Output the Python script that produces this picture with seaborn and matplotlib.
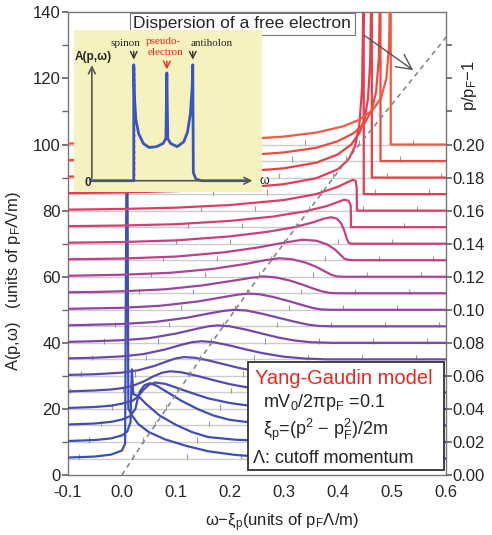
import numpy as np
import pandas as pd
import matplotlib
matplotlib.use('Agg')
import matplotlib.pyplot as plt
import seaborn as sns
from matplotlib.patches import Rectangle

sns.set_theme(style='white')
plt.rcParams['font.family'] = ['Liberation Sans', 'DejaVu Sans']
plt.rcParams['mathtext.default'] = 'regular'

# p/pF - 1 of each curve and the vertical shift between curves
p_rows = [0.01 * k for k in range(1, 21)]
row_step = 5.0
right_ticks = [0.00, 0.02, 0.04, 0.06, 0.08, 0.10, 0.12, 0.14, 0.16, 0.18, 0.20]

# free electron position xi_p on each row
xi_p = [0.020, 0.040, 0.061, 0.082, 0.103, 0.124, 0.145, 0.166, 0.188, 0.210,
        0.232, 0.254, 0.277, 0.300, 0.323, 0.346, 0.369, 0.392, 0.416, 0.440]
free_x = [0.0] + xi_p + [0.638]
free_y = [0.0] + [5.0 * k for k in range(1, 21)] + [140.0]

curve_colors = ['#3b4fb6', '#3d4eb5', '#414db4', '#474cb3', '#524ab2', '#5e49b0',
                '#6a48ad', '#7747aa', '#8446a6', '#9245a1', '#9f449b', '#ad4394',
                '#bb418b', '#c93f80', '#d63e72', '#e03c63', '#e63b53', '#ea3f45',
                '#ed4a40', '#f05a40']

c01 = [(-0.10, 0.3), (-0.05, 0.6), (-0.02, 1.2), (0.00, 2.4), (0.006, 4.5), (0.0095, 120),
       (0.012, 15), (0.019, 13), (0.03, 10.5), (0.05, 8), (0.08, 5.8), (0.12, 3.8),
       (0.16, 2.2), (0.21, 1.1), (0.26, 0.5), (0.33, 0.1), (0.60, 0)]
c02 = [(-0.10, 0.3), (-0.05, 0.6), (-0.02, 1.1), (0.00, 2.0), (0.01, 3.2), (0.016, 6),
       (0.0185, 22), (0.021, 14.5), (0.03, 14), (0.045, 11.5), (0.07, 8), (0.10, 5.2),
       (0.13, 3.0), (0.16, 1.5), (0.21, 0.7), (0.27, 0.3), (0.35, 0), (0.60, 0)]
c03 = [(-0.10, 0.3), (-0.05, 0.6), (-0.02, 1.1), (0.00, 1.8), (0.015, 2.8), (0.025, 5),
       (0.03, 8.5), (0.034, 10.5), (0.042, 12.2), (0.052, 12.8), (0.065, 12), (0.085, 10),
       (0.11, 7.5), (0.14, 5), (0.17, 3), (0.20, 1.7), (0.25, 0.7), (0.30, 0.25), (0.38, 0),
       (0.60, 0)]
c04 = [(-0.10, 0.3), (-0.05, 0.6), (-0.02, 1.0), (0.00, 1.6), (0.02, 2.5), (0.03, 3.8),
       (0.04, 5.8), (0.05, 7.3), (0.062, 8.0), (0.08, 7.6), (0.10, 6.5), (0.13, 4.8),
       (0.16, 3.2), (0.20, 1.8), (0.24, 0.9), (0.29, 0.3), (0.36, 0), (0.60, 0)]
c05 = [(-0.10, 0.3), (-0.05, 0.6), (-0.02, 0.9), (0.00, 1.3), (0.02, 2.0), (0.04, 3.3),
       (0.06, 5.0), (0.075, 6.0), (0.09, 6.4), (0.11, 6.1), (0.14, 5.0), (0.17, 3.7),
       (0.20, 2.5), (0.24, 1.3), (0.28, 0.6), (0.33, 0.15), (0.38, 0), (0.60, 0)]
c06 = [(-0.10, 0.3), (-0.05, 0.5), (0.00, 1.0), (0.03, 1.7), (0.06, 3.0), (0.085, 4.5),
       (0.10, 5.3), (0.115, 5.7), (0.135, 5.5), (0.16, 4.7), (0.19, 3.5), (0.22, 2.3),
       (0.26, 1.2), (0.30, 0.5), (0.35, 0.1), (0.40, 0), (0.60, 0)]
c07 = [(-0.10, 0.3), (-0.05, 0.5), (0.00, 0.9), (0.04, 1.6), (0.08, 3.0), (0.11, 4.4),
       (0.13, 5.2), (0.148, 5.5), (0.17, 5.2), (0.20, 4.2), (0.23, 3.0), (0.26, 1.9),
       (0.30, 0.8), (0.34, 0.25), (0.38, 0), (0.60, 0)]
c08 = [(-0.10, 0.3), (-0.05, 0.5), (0.00, 0.8), (0.05, 1.4), (0.10, 2.8), (0.14, 4.3),
       (0.16, 5.0), (0.178, 5.3), (0.20, 5.0), (0.23, 4.0), (0.26, 2.8), (0.29, 1.6),
       (0.32, 0.7), (0.35, 0.2), (0.39, 0), (0.60, 0)]
c09 = [(-0.10, 0.3), (-0.05, 0.5), (0.00, 0.7), (0.06, 1.3), (0.12, 2.6), (0.165, 4.0),
       (0.19, 4.7), (0.208, 5.0), (0.23, 4.8), (0.26, 3.8), (0.29, 2.6), (0.32, 1.4),
       (0.345, 0.5), (0.365, 0.1), (0.39, 0), (0.60, 0)]
c10 = [(-0.10, 0.3), (-0.05, 0.45), (0.00, 0.6), (0.07, 1.2), (0.14, 2.5), (0.19, 3.9),
       (0.215, 4.6), (0.235, 4.9), (0.255, 4.7), (0.28, 3.9), (0.31, 2.6), (0.335, 1.4),
       (0.355, 0.5), (0.37, 0.1), (0.39, 0), (0.60, 0)]
c11 = [(-0.10, 0.3), (-0.05, 0.4), (0.00, 0.6), (0.08, 1.2), (0.15, 2.4), (0.21, 3.9),
       (0.24, 4.7), (0.262, 5.1), (0.285, 4.8), (0.31, 3.9), (0.335, 2.6), (0.355, 1.4),
       (0.37, 0.6), (0.385, 0.1), (0.40, 0), (0.60, 0)]
c12 = [(-0.10, 0.3), (0.00, 0.6), (0.09, 1.2), (0.17, 2.4), (0.23, 3.9), (0.265, 5.0),
       (0.292, 5.6), (0.315, 5.3), (0.34, 4.3), (0.36, 3.0), (0.375, 1.7), (0.388, 0.6),
       (0.398, 0.1), (0.41, 0), (0.60, 0)]
c13 = [(-0.10, 0.3), (0.00, 0.5), (0.10, 1.1), (0.19, 2.4), (0.25, 3.8), (0.30, 5.3),
       (0.335, 6.2), (0.36, 5.9), (0.38, 4.8), (0.395, 3.2), (0.405, 1.6), (0.412, 0.5),
       (0.42, 0.1), (0.43, 0), (0.60, 0)]
c14 = [(-0.10, 0.3), (0.00, 0.5), (0.10, 1.0), (0.20, 2.2), (0.27, 3.6), (0.32, 5.0),
       (0.355, 6.5), (0.375, 7.6), (0.388, 8.0), (0.398, 7.6), (0.406, 6.2), (0.412, 4.0),
       (0.416, 1.8), (0.42, 0.3), (0.425, 0), (0.60, 0)]
c15 = [(-0.10, 0.3), (0.00, 0.5), (0.10, 0.9), (0.20, 1.9), (0.28, 3.2), (0.34, 4.8),
       (0.38, 6.4), (0.40, 7.6), (0.412, 8.3), (0.42, 8.0), (0.424, 6.5), (0.4245, 0),
       (0.60, 0)]
c16 = [(-0.10, 0.3), (0.00, 0.5), (0.10, 0.9), (0.20, 1.7), (0.30, 3.2), (0.36, 5.0),
       (0.40, 7.2), (0.418, 8.6), (0.428, 9.3), (0.433, 9.0), (0.435, 7), (0.4355, 0),
       (0.60, 0)]
c17 = [(-0.10, 0.3), (0.00, 0.5), (0.10, 0.9), (0.20, 1.6), (0.30, 3.0), (0.36, 4.8),
       (0.40, 7.5), (0.42, 10.5), (0.432, 14.5), (0.44, 21), (0.445, 32), (0.4475, 60),
       (0.448, 200), (0.4481, 0), (0.60, 0)]
c18 = [(-0.10, 0.3), (0.00, 0.5), (0.10, 0.8), (0.20, 1.5), (0.30, 2.8), (0.36, 4.5),
       (0.40, 7.0), (0.425, 10), (0.44, 13.5), (0.45, 18), (0.456, 24), (0.46, 35),
       (0.4625, 60), (0.463, 200), (0.4631, 0), (0.60, 0)]
c19 = [(-0.10, 0.3), (0.00, 0.5), (0.10, 0.8), (0.20, 1.4), (0.30, 2.6), (0.36, 4.0),
       (0.40, 6.0), (0.43, 8.5), (0.45, 11.5), (0.463, 15.5), (0.471, 21), (0.476, 31),
       (0.4785, 55), (0.479, 200), (0.4791, 0), (0.60, 0)]
c20 = [(-0.10, 0.3), (0.00, 0.5), (0.10, 0.8), (0.20, 1.3), (0.30, 2.4), (0.36, 3.6),
       (0.41, 5.5), (0.44, 7.5), (0.465, 10.5), (0.48, 14), (0.49, 20), (0.495, 30),
       (0.4975, 55), (0.498, 200), (0.4981, 0), (0.60, 0)]
curves = [c01, c02, c03, c04, c05, c06, c07, c08, c09, c10,
          c11, c12, c13, c14, c15, c16, c17, c18, c19, c20]

# inset sketch of A(p, omega)
inset_w = [0.096, 0.319, 0.319, 0.322, 0.33, 0.345, 0.37, 0.40, 0.44, 0.475, 0.49, 0.495,
           0.50, 0.515, 0.55, 0.585, 0.605, 0.62, 0.63, 0.633, 0.636, 0.65, 0.68, 0.93]
inset_A = [0.07, 0.07, 0.785, 0.6, 0.45, 0.36, 0.30, 0.275, 0.28, 0.30, 0.33, 0.735,
           0.33, 0.30, 0.28, 0.31, 0.37, 0.48, 0.65, 0.785, 0.12, 0.08, 0.07, 0.07]
inset_edges = [0.319, 0.495, 0.633]

rows = []
for k, pts in enumerate(curves, start=1):
    for i, (x, a) in enumerate(pts):
        rows.append({'k': k, 'i': i, 'x': x, 'y': row_step * k + a})
df = pd.DataFrame(rows)

fig = plt.figure(figsize=(4.92, 5.35), dpi=100)
ax = fig.add_axes([0.138, 0.112, 0.768, 0.865])

# grey baselines and small omega marks
for k in range(1, 21):
    base = row_step * k
    ax.axhline(base, color='#cccccc', lw=1.0, zorder=1)
    marks = [xi_p[k - 1] + 0.1 * m for m in range(-2, 7)]
    marks = [m for m in marks if -0.1 < m < 0.6]
    ax.vlines(marks, base - 0.2, base + 1.4, color='#999999', lw=0.8, zorder=1)

sns.lineplot(data=df, x='x', y='y', hue='k', units='k', estimator=None, sort=False,
             palette=dict(zip(range(1, 21), curve_colors)), legend=False,
             lw=1.6, ax=ax, zorder=3)

ax.plot(free_x, free_y, ls=(0, (3, 2.5)), color='#888888', lw=1.2, zorder=4)

ax.set_xlim(-0.1, 0.6)
ax.set_ylim(0, 140)
ax.set_xticks(np.arange(-0.1, 0.61, 0.1))
ax.set_xticklabels(['-0.1', '0.0', '0.1', '0.2', '0.3', '0.4', '0.5', '0.6'])
ax.set_yticks(range(0, 141, 20))
ax.set_yticks(range(10, 140, 20), minor=True)
ax.tick_params(axis='x', direction='in', length=4, labelsize=12, pad=7, color='#666666')
ax.tick_params(axis='y', which='both', direction='out', length=4, labelsize=12, pad=1,
               color='#666666', left=True)
for s in ax.spines.values():
    s.set_color('#777777')
    s.set_linewidth(1.0)
ax.set_xlabel('ω−ξ$_p$(units of p$_F$Λ/m)', fontsize=12)
ax.xaxis.set_label_coords(0.566, -0.078)
ax.set_ylabel('A(p,ω)   (units of p$_F$Λ/m)', fontsize=12)
ax.yaxis.set_label_coords(-0.12, 0.42)

ax2 = ax.twinx()
ax2.set_ylim(0, 0.28)
ax2.set_yticks(right_ticks + [0.22, 0.24, 0.26])
ax2.set_yticklabels(['%.2f' % t for t in right_ticks] + ['', '', ''])
ax2.tick_params(axis='y', direction='out', length=4, labelsize=12, pad=1, color='#666666',
                right=True)
for s in ax2.spines.values():
    s.set_visible(False)
fig.text(0.955, 0.84, 'p/p$_F$−1', rotation=90, ha='center', va='center', fontsize=12)

# model box
ax.add_patch(Rectangle((0.234, 1.5), 0.362, 32.7, facecolor='white', edgecolor='#333333',
                       lw=1.3, zorder=8))
ax.text(0.247, 29.3, 'Yang-Gaudin model', color='#e8281e', fontsize=14.5, va='center',
        zorder=9)
ax.text(0.262, 22.0, 'mV$_0$/2πp$_F$ =0.1', fontsize=13, va='center', zorder=9)
ax.text(0.262, 13.6, 'ξ$_p$=(p$^2$ − p$_F^2$)/2m', fontsize=13, va='center', zorder=9)
ax.text(0.243, 5.1, 'Λ: cutoff momentum', fontsize=13, va='center', zorder=9)

ax.text(0.223, 136.6, 'Dispersion of a free electron', fontsize=12.5, ha='center',
        va='center', zorder=9,
        bbox=dict(boxstyle='square,pad=0.2', facecolor='white', edgecolor='#777777', lw=0.8))
ax.annotate('', xy=(0.544, 122), xytext=(0.444, 133.6), zorder=9,
            arrowprops=dict(arrowstyle='->,head_length=0.9,head_width=0.45',
                            color='#555555', lw=1.0))

# inset
ins = fig.add_axes([0.150, 0.641, 0.382, 0.303])
ins.set_facecolor('#f5f2bf')
for s in ins.spines.values():
    s.set_visible(False)
ins.set_xticks([])
ins.set_yticks([])
ins.set_xlim(0, 1)
ins.set_ylim(0, 1)
ins.annotate('', xy=(0.096, 0.80), xytext=(0.096, 0.065),
             arrowprops=dict(arrowstyle='->', color='#555555', lw=1.2))
ins.annotate('', xy=(0.965, 0.07), xytext=(0.09, 0.07),
             arrowprops=dict(arrowstyle='->', color='#555555', lw=1.2))
ins.plot([inset_edges[0], inset_edges[0]], [0.07, 0.785], ls=(0, (2, 2)), color='black',
         lw=1.0)
sns.lineplot(x=inset_w, y=inset_A, sort=False, estimator=None, color='#3a55c0', lw=2.0,
             ax=ins)
ins.text(0.005, 0.835, 'A(p,ω)', fontsize=8.5, fontweight='bold', va='center')
ins.text(0.075, 0.055, '0', fontsize=8.5, fontweight='bold', ha='center', va='center')
ins.text(0.99, 0.07, 'ω', fontsize=9, ha='left', va='center', clip_on=False)
serif = ['Liberation Serif', 'DejaVu Serif']
ins.text(0.275, 0.915, 'spinon', fontsize=8, ha='center', va='center', family=serif)
ins.text(0.475, 0.93, 'pseudo-', fontsize=8, ha='center', va='center', color='#e8281e',
         family=serif)
ins.text(0.49, 0.86, 'electron', fontsize=8, ha='center', va='center', color='#e8281e',
         family=serif)
ins.text(0.735, 0.915, 'antiholon', fontsize=8, ha='center', va='center', family=serif)
for xe, top, col in [(inset_edges[0], 0.885, '#333333'), (inset_edges[1], 0.825, '#e8281e'),
                     (inset_edges[2], 0.885, '#333333')]:
    ins.annotate('', xy=(xe, top - 0.085), xytext=(xe, top),
                 arrowprops=dict(arrowstyle='->', color=col, lw=1.0))

fig.savefig('out.png', dpi=100)
